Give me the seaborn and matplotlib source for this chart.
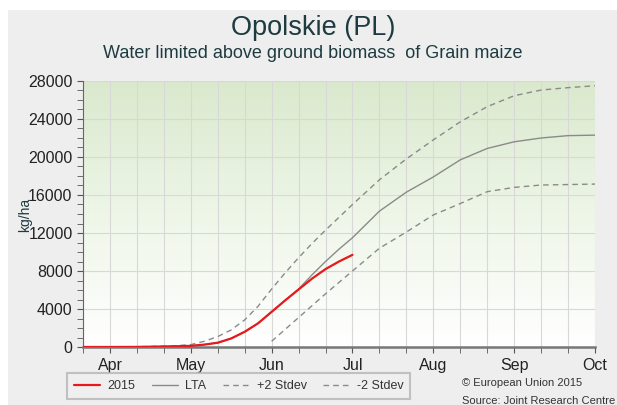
import numpy as np
import pandas as pd
import matplotlib
matplotlib.use("Agg")
import matplotlib.pyplot as plt
import seaborn as sns
from matplotlib.patches import Rectangle
from matplotlib.colors import LinearSegmentedColormap

# x unit = dekad: 0 = Mar 3rd dekad, 1 = Apr 1, 4 = May 1, ... 19 = Oct 1
lta_x = [0, 1, 2, 3, 3.5, 4, 4.5, 5, 5.5, 6, 6.5, 7, 7.5, 8, 8.5, 9, 9.5, 10, 11, 12, 13, 14, 15, 16, 17, 18, 19]
lta = [0, 0, 10, 50, 80, 120, 250, 450, 900, 1600, 2500, 3700, 4900, 6100, 7600, 9000, 10300, 11500,
       14300, 16300, 17900, 19700, 20900, 21600, 22000, 22250, 22300]
plus2_x = [0, 1, 2, 3, 3.5, 4, 4.5, 5, 5.5, 6, 6.5, 7, 7.5, 8, 8.5, 9, 10, 11, 12, 13, 14, 15, 16, 17, 18, 19]
plus2 = [0, 0, 20, 100, 150, 250, 600, 1100, 1800, 2850, 4300, 6100, 7800, 9400, 10900, 12300, 15000,
         17600, 19800, 21800, 23700, 25300, 26450, 27050, 27300, 27500]
minus2_x = [7, 8, 9, 10, 11, 12, 13, 14, 15, 16, 17, 18, 19]
minus2 = [600, 3100, 5600, 8000, 10400, 12100, 13900, 15100, 16350, 16800, 17050, 17100, 17150]
y2015_x = [0, 1, 2, 3, 3.5, 4, 4.5, 5, 5.5, 6, 6.5, 7, 7.5, 8, 8.5, 9, 9.5, 10]
y2015 = [0, 0, 10, 50, 80, 120, 250, 450, 900, 1600, 2500, 3700, 4900, 6050, 7200, 8200, 9000, 9700]
month_labels = ["Apr", "May", "Jun", "Jul", "Aug", "Sep", "Oct"]
month_pos = [1, 4, 7, 10, 13, 16, 19]

sns.set_style("ticks")
plt.rcParams['font.family'] = ['Liberation Sans', 'DejaVu Sans']

fig = plt.figure(figsize=(6.17, 4.05), dpi=100, facecolor="white")
fig.patches.append(Rectangle((8/617, 0), 1 - 8/617, 1 - 10/405, transform=fig.transFigure,
                             facecolor="#eeeeee", edgecolor="none", zorder=-10))
ax = fig.add_axes([83/617, 1 - 347/405, 512/617, 266/405])
ax.set_facecolor("none")

# gradient background
cmap = LinearSegmentedColormap.from_list("g", ["#ffffff", "#eef6e8", "#dae9cd"])
grad = np.linspace(0, 1, 256).reshape(-1, 1)
ax.imshow(grad, aspect="auto", cmap=cmap, origin="lower",
          extent=[0, 19, 0, 28000], zorder=0)

df_lta = pd.DataFrame({"x": lta_x, "y": lta})
df_p = pd.DataFrame({"x": plus2_x, "y": plus2})
df_m = pd.DataFrame({"x": minus2_x, "y": minus2})
df_r = pd.DataFrame({"x": y2015_x, "y": y2015})

sns.lineplot(data=df_r, x="x", y="y", ax=ax, color="#e8191c", lw=1.6, label="2015", zorder=5)
sns.lineplot(data=df_lta, x="x", y="y", ax=ax, color="#8a8a8a", lw=1.0, label="LTA", zorder=4)
sns.lineplot(data=df_p, x="x", y="y", ax=ax, color="#8a8a8a", lw=1.0, ls=(0, (4, 3)), label="+2 Stdev", zorder=4)
sns.lineplot(data=df_m, x="x", y="y", ax=ax, color="#8a8a8a", lw=1.0, ls=(0, (4, 3)), label="-2 Stdev", zorder=4)

ax.set_xlim(0, 19)
ax.set_ylim(0, 28000)
ax.set_xticks(month_pos)
ax.set_xticklabels(month_labels)
ax.set_xticks(range(20), minor=True)
ax.set_yticks(range(0, 28001, 4000))
ax.set_yticks(range(0, 28001, 1000), minor=True)
ax.tick_params(axis="both", which="major", labelsize=11.5, colors="#555555", labelcolor="#222222", length=4)
ax.tick_params(axis="x", which="major", pad=4)
ax.tick_params(axis="both", which="minor", colors="#555555", length=4)
ax.grid(True, which="minor", axis="x", color="#d8d8d8", lw=0.8, zorder=1)
ax.grid(True, which="major", axis="x", color="#d8d8d8", lw=0.8, zorder=1)
ax.grid(True, which="major", axis="y", color="#d8d8d8", lw=0.8, zorder=1)
ax.set_axisbelow(True)
for s in ["top", "right"]:
    ax.spines[s].set_visible(False)
ax.spines["left"].set_color("#666666")
ax.spines["bottom"].set_color("#777777")
ax.spines["bottom"].set_linewidth(1.8)
ax.set_xlabel("")
ax.set_ylabel("")
fig.text(25/617, 1 - 215/405, "kg/ha", rotation=90, ha="center", va="center", fontsize=10, color="#1d3b40")

leg = ax.legend(loc="upper left", bbox_to_anchor=(67/617, 1 - 373/405), bbox_transform=fig.transFigure,
                ncol=4, frameon=True, fontsize=9, handlelength=2.1, handletextpad=0.6,
                columnspacing=1.3, borderpad=0.55, borderaxespad=0, fancybox=False)
leg.get_frame().set_edgecolor("#b5b5b5")
leg.get_frame().set_facecolor("#f0f0f0")
leg.get_frame().set_linewidth(1.5)
for t in leg.get_texts():
    t.set_color("#333333")

fig.text(313/617, 1 - 35/405, "Opolskie (PL)", ha="center", va="baseline", fontsize=19.5, color="#1d3b40")
fig.text(313/617, 1 - 58/405, "Water limited above ground biomass  of Grain maize", ha="center", va="baseline",
         fontsize=13, color="#1d3b40")
fig.text(462/617, 1 - 383/405, "© European Union 2015", ha="left", va="center", fontsize=8, color="#333333")
fig.text(462/617, 1 - 401/405, "Source: Joint Research Centre", ha="left", va="center", fontsize=8, color="#333333")

fig.savefig("out.png", dpi=100, facecolor=fig.get_facecolor())
